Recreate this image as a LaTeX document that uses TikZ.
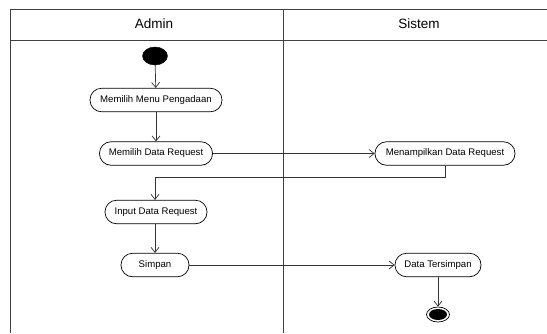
\documentclass[tikz,border=0pt]{standalone}
\usepackage{fontspec}
\setmainfont{Liberation Sans}
\usetikzlibrary{arrows.meta,shapes.geometric}
\begin{document}
\begin{tikzpicture}[x=1pt,y=-1pt,
  frame/.style={draw=black!75,line width=0.9pt},
  act/.style={draw=black,line width=0.7pt,rounded corners=11.5pt,minimum height=23.5pt,inner sep=0pt,font=\fontsize{9.6}{11}\selectfont},
  flow/.style={draw=black!80,line width=0.7pt,-{Straight Barb[length=5pt,width=8pt]}},
  hdr/.style={font=\fontsize{13.5}{15}\selectfont}]
\useasboundingbox (0,0) rectangle (547,333);
% swimlanes
\coordinate (tl) at (10,9);
\coordinate (tr) at (547,9);
\coordinate (hl) at (10,40);
\coordinate (hr) at (547,40);
\coordinate (bl) at (10,333);
\coordinate (dt) at (283,9);
\coordinate (db) at (283,333);
\draw[frame] (tr) -- (tl) -- (bl);
\draw[frame] (hl) -- (hr);
\draw[frame] (dt) -- (db);
\node[hdr] (admin) at (154,24) {Admin};
\node[hdr] (sistem) at (419,24) {Sistem};
% nodes
\node[draw=black,fill=black,ellipse,minimum width=25pt,minimum height=18pt,inner sep=0pt] (start) at (155,56) {};
\node[act,minimum width=132pt] (menu) at (156,100) {Memilih Menu Pengadaan};
\node[act,minimum width=113pt] (req) at (156,153.5) {Memilih Data Request};
\node[act,minimum width=140pt] (tampil) at (445,153.5) {Menampilkan Data Request};
\node[act,minimum width=102pt] (input) at (156,212) {Input Data Request};
\node[act,minimum width=68pt] (simpan) at (155,265) {Simpan};
\node[act,minimum width=86pt] (tersimpan) at (438,265) {Data Tersimpan};
\node[draw=black,line width=0.7pt,ellipse,minimum width=23pt,minimum height=15pt,inner sep=0pt] (endo) at (438,314.5) {};
\node[fill=black,ellipse,minimum width=18pt,minimum height=11pt,inner sep=0pt] (endi) at (438,314.5) {};
% flows
\coordinate (k1) at (445,177);
\coordinate (k2) at (155,177);
\draw[flow] (start) -- (menu);
\draw[flow] (menu) -- (req);
\draw[flow] (req) -- (tampil);
\draw[flow] (tampil.south) -- (k1) -- (k2) -- (input.north -| k2);
\draw[flow] (input.south -| simpan) -- (simpan);
\draw[flow] (simpan) -- (tersimpan);
\draw[flow] (tersimpan) -- (endo);
\end{tikzpicture}
\end{document}
